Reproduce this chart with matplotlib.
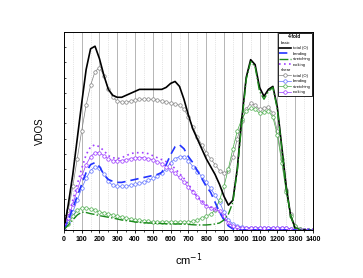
import numpy as np
from matplotlib import pyplot as plt
from matplotlib.lines import Line2D

plt.rcParams["font.family"] = ["Liberation Sans", "DejaVu Sans"]

# wavenumber grid (cm^-1)
freq = np.arange(0, 1401, 25)

# basic model
basic_total = [0, 0.13, 0.28, 0.46, 0.64, 0.81, 0.915, 0.928, 0.865, 0.78, 0.71, 0.68, 0.67, 0.67,
               0.68, 0.69, 0.70, 0.71, 0.71, 0.71, 0.71, 0.71, 0.71, 0.72, 0.74, 0.75, 0.725, 0.66,
               0.58, 0.51, 0.46, 0.41, 0.36, 0.32, 0.28, 0.23, 0.17, 0.125, 0.15, 0.31, 0.56, 0.77,
               0.86, 0.835, 0.72, 0.675, 0.71, 0.725, 0.62, 0.42, 0.22, 0.07, 0.01, 0, 0, 0, 0]
basic_bend = [0, 0.05, 0.11, 0.17, 0.23, 0.29, 0.33, 0.34, 0.32, 0.28, 0.255, 0.245, 0.24, 0.24,
              0.245, 0.25, 0.255, 0.26, 0.265, 0.27, 0.275, 0.28, 0.29, 0.33, 0.38, 0.42, 0.43, 0.41,
              0.37, 0.34, 0.30, 0.26, 0.22, 0.19, 0.14, 0.09, 0.05, 0.02, 0.005, 0, 0, 0,
              0, 0, 0, 0, 0, 0, 0, 0, 0, 0, 0, 0, 0, 0, 0]
basic_stretch = [0, 0.025, 0.05, 0.075, 0.09, 0.088, 0.082, 0.078, 0.072, 0.068, 0.064, 0.06, 0.055, 0.05,
                 0.047, 0.044, 0.04, 0.038, 0.036, 0.035, 0.034, 0.033, 0.032, 0.031, 0.03, 0.03, 0.03, 0.03,
                 0.028, 0.026, 0.025, 0.025, 0.025, 0.027, 0.03, 0.035, 0.05, 0.08, 0.14, 0.30, 0.54, 0.76,
                 0.85, 0.825, 0.70, 0.66, 0.70, 0.72, 0.61, 0.41, 0.21, 0.07, 0.01, 0, 0, 0, 0]
basic_rock = [0, 0.07, 0.15, 0.23, 0.31, 0.38, 0.42, 0.43, 0.42, 0.40, 0.375, 0.365, 0.36, 0.365,
              0.375, 0.385, 0.39, 0.39, 0.39, 0.385, 0.375, 0.365, 0.355, 0.345, 0.33, 0.31, 0.285, 0.26,
              0.23, 0.20, 0.17, 0.145, 0.125, 0.115, 0.105, 0.09, 0.06, 0.03, 0.01, 0.005, 0, 0,
              0, 0, 0, 0, 0, 0, 0, 0, 0, 0, 0, 0, 0, 0, 0]

# shear model
shear_total = [0, 0.10, 0.22, 0.36, 0.50, 0.63, 0.73, 0.80, 0.82, 0.78, 0.71, 0.67, 0.65, 0.645,
               0.645, 0.65, 0.655, 0.66, 0.66, 0.66, 0.66, 0.655, 0.65, 0.645, 0.64, 0.635, 0.63, 0.61,
               0.57, 0.52, 0.47, 0.43, 0.39, 0.36, 0.33, 0.30, 0.285, 0.30, 0.37, 0.46, 0.55, 0.61,
               0.64, 0.63, 0.61, 0.615, 0.62, 0.59, 0.50, 0.36, 0.20, 0.08, 0.02, 0.005, 0, 0, 0]
shear_bend = [0, 0.04, 0.09, 0.15, 0.21, 0.26, 0.30, 0.32, 0.315, 0.28, 0.245, 0.225, 0.22, 0.22,
              0.22, 0.225, 0.23, 0.235, 0.24, 0.25, 0.26, 0.27, 0.285, 0.31, 0.34, 0.36, 0.37, 0.37,
              0.35, 0.32, 0.295, 0.27, 0.24, 0.21, 0.175, 0.14, 0.09, 0.05, 0.03, 0.02, 0.015, 0.01,
              0.01, 0.01, 0.01, 0.01, 0.01, 0.01, 0.01, 0.01, 0.01, 0.005, 0, 0, 0, 0, 0]
shear_stretch = [0, 0.03, 0.07, 0.10, 0.11, 0.11, 0.105, 0.10, 0.09, 0.085, 0.08, 0.075, 0.07, 0.065,
                 0.06, 0.055, 0.05, 0.048, 0.045, 0.043, 0.04, 0.04, 0.04, 0.04, 0.04, 0.04, 0.04, 0.04,
                 0.04, 0.045, 0.05, 0.06, 0.07, 0.08, 0.10, 0.15, 0.22, 0.31, 0.41, 0.50, 0.56, 0.60,
                 0.615, 0.61, 0.59, 0.595, 0.60, 0.57, 0.48, 0.34, 0.19, 0.07, 0.02, 0.005, 0, 0, 0]
shear_rock = [0, 0.06, 0.13, 0.20, 0.27, 0.33, 0.37, 0.39, 0.39, 0.375, 0.36, 0.35, 0.35, 0.35,
              0.355, 0.36, 0.365, 0.365, 0.365, 0.36, 0.355, 0.345, 0.335, 0.32, 0.305, 0.285, 0.265, 0.24,
              0.215, 0.19, 0.165, 0.14, 0.12, 0.11, 0.105, 0.095, 0.07, 0.035, 0.02, 0.015, 0.01, 0.01,
              0.01, 0.01, 0.01, 0.01, 0.01, 0.01, 0.01, 0.01, 0.01, 0.005, 0, 0, 0, 0, 0]

c_blue = "#2233ff"
c_green = "#1a8a1a"
c_lgreen = "#44aa44"
c_purple = "#9933ff"
c_lpurple = "#a040ff"

fig = plt.figure(figsize=(3.63, 2.78), dpi=100)
ax = fig.add_axes([0.176, 0.173, 0.686, 0.712])

mk = dict(marker="o", markersize=2.5, markerfacecolor="white", markeredgewidth=0.5, linewidth=0.5)

ax.plot(freq, shear_total, color="#808080", label="total (O)", **mk)
ax.plot(freq, shear_bend, color="#5a6cff", label="bending", **mk)
ax.plot(freq, shear_stretch, color=c_lgreen, label="stretching", **mk)
ax.plot(freq, shear_rock, color=c_purple, label="rocking", **mk)

ax.plot(freq, basic_total, color="black", lw=1.2, label="total (O)")
ax.plot(freq, basic_bend, color=c_blue, lw=1.2, ls=(0, (5, 3)), label="bending")
ax.plot(freq, basic_stretch, color=c_green, lw=1.0, ls="-.", label="stretching")
ax.plot(freq, basic_rock, color=c_lpurple, lw=1.2, ls=(0, (1, 2)), label="rocking")

ax.set_xlim(0, 1400)
ax.set_ylim(0, 1.0)
ax.set_xticks(np.arange(0, 1401, 100))
ax.set_xticks(np.arange(50, 1400, 100), minor=True)
ax.set_yticks(np.linspace(0, 1, 14))
ax.set_yticklabels([])
ax.tick_params(axis="x", labelsize=5, length=2, width=0.6, pad=2.5)
ax.tick_params(axis="x", which="minor", length=1.5, width=0.5)
ax.tick_params(axis="y", length=1.5, width=0.5, direction="in")
for lab in ax.get_xticklabels():
    lab.set_fontweight("bold")
ax.grid(axis="x", which="major", color="#aaaaaa", lw=0.6)
ax.grid(axis="x", which="minor", color="#cccccc", lw=0.5, ls=":")
ax.set_axisbelow(True)
for s in ax.spines.values():
    s.set_linewidth(0.7)

ax.set_xlabel("cm$^{-1}$", fontsize=8, labelpad=6)
ax.set_ylabel("VDOS", fontsize=7, labelpad=10)

lines = ax.get_lines()
blank = Line2D([], [], linestyle="none")
handles = [blank] + lines[4:] + [blank] + lines[:4]
labels = ["basic", "total (O)", "bending", "stretching", "rocking",
          "shear", "total (O)", "bending", "stretching", "rocking"]
leg = ax.legend(handles, labels, loc="upper right", fontsize=3.0, title="4-fold",
                title_fontproperties={"size": 3.4, "weight": "bold"}, frameon=True,
                fancybox=False, edgecolor="black", handlelength=2.8, handletextpad=0.4,
                labelspacing=0.35, borderpad=0.4, borderaxespad=0.2)
leg.get_frame().set_linewidth(0.6)
leg.get_frame().set_alpha(1)
for t in leg.get_texts():
    if t.get_text() in ("basic", "shear"):
        t.set_position((-12, 0))

fig.savefig("out.png", dpi=100)
